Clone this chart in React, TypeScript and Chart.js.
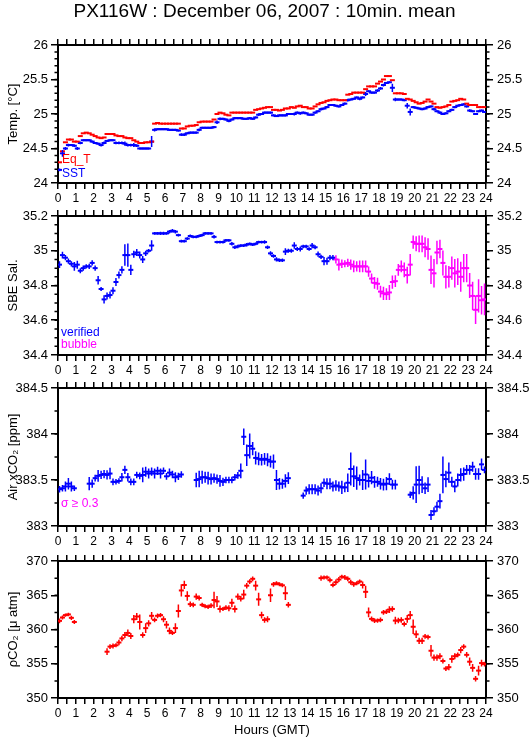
import React, { useEffect, useRef } from 'react';
import { Chart, registerables } from 'chart.js';

Chart.register(...registerables);
Chart.defaults.font.family = '"Liberation Sans", Arial, Helvetica, sans-serif';
Chart.defaults.color = '#000';

// ---------------- data ----------------
const TITLE = 'PX116W : December 06, 2007 : 10min. mean';
const HOURS = [0, 1, 2, 3, 4, 5, 6, 7, 8, 9, 10, 11, 12, 13, 14, 15, 16, 17, 18, 19, 20, 21, 22, 23, 24];
const TEMP_TICKS = [24, 24.5, 25, 25.5, 26];
const SAL_TICKS = [34.4, 34.6, 34.8, 35, 35.2];
const AIR_TICKS = [383, 383.5, 384, 384.5];
const PCO2_TICKS = [350, 355, 360, 365, 370];

// 10-minute means, centred at hh:05, hh:15, ... hh:55
const TIMES = Array.from({ length: 144 }, (_, i) => (i * 10 + 5) / 60);

const EQT = [
  24.30, 24.46, 24.59, 24.63, 24.63, 24.60,
  24.60, 24.68, 24.72, 24.73, 24.72, 24.70,
  24.68, 24.66, 24.65, 24.66, 24.71, 24.71,
  24.71, 24.69, 24.68, 24.68, 24.66, 24.65,
  24.65, 24.62, 24.60, 24.58, 24.58, 24.59,
  24.59, 24.60, 24.86, 24.87, 24.86, 24.86,
  24.86, 24.86, 24.86, 24.86, 24.86, 24.79,
  24.79, 24.82, 24.83, 24.83, 24.84, 24.88,
  24.89, 24.89, 24.89, 24.89, 24.92, 25.00,
  25.02, 25.01, 24.99, 24.98, 25.02, 25.02,
  25.02, 25.02, 25.02, 25.02, 25.02, 25.02,
  25.06, 25.07, 25.08, 25.09, 25.10, 25.10,
  25.06, 25.06, 25.05, 25.06, 25.08, 25.08,
  25.10, 25.09, 25.11, 25.12, 25.10, 25.10,
  25.08, 25.08, 25.11, 25.14, 25.16, 25.17,
  25.19, 25.20, 25.21, 25.21, 25.20, 25.20,
  25.20, 25.28, 25.29, 25.31, 25.31, 25.31,
  25.31, 25.36, 25.40, 25.40, 25.40, 25.44,
  25.47, 25.50, 25.55, 25.55, 25.49, 25.30,
  25.30, 25.30, 25.29, 25.22, 25.21, 25.19,
  25.17, 25.15, 25.16, 25.18, 25.21, 25.18,
  25.15, 25.10, 25.09, 25.10, 25.11, 25.13,
  25.18, 25.19, 25.20, 25.22, 25.21, 25.15,
  25.13, 25.13, 25.13, 25.10, 25.10, 25.10,
];

const SST = [
  24.19, 24.43, 24.50, 24.55, 24.55, 24.54,
  24.50, 24.58, 24.62, 24.62, 24.62, 24.60,
  24.58, 24.57, 24.55, 24.58, 24.61, 24.62,
  24.62, 24.58, 24.58, 24.58, 24.57, 24.55,
  24.55, 24.55, 24.54, 24.50, 24.50, 24.50,
  24.50, 24.60, 24.77, 24.78, 24.78, 24.78,
  24.78, 24.77, 24.77, 24.77, 24.76, 24.70,
  24.70, 24.72, 24.73, 24.73, 24.73, 24.77,
  24.80, 24.80, 24.80, 24.80, 24.81, 24.88,
  24.93, 24.93, 24.92, 24.90, 24.92, 24.94,
  24.94, 24.94, 24.93, 24.93, 24.94, 24.93,
  24.95, 24.99, 25.00, 25.02, 25.02, 25.02,
  24.98, 24.97, 24.98, 24.98, 24.98, 25.00,
  25.00, 25.00, 25.02, 25.01, 25.02, 25.01,
  24.99, 24.99, 25.02, 25.04, 25.07, 25.08,
  25.10, 25.13, 25.13, 25.12, 25.11, 25.13,
  25.15, 25.20, 25.21, 25.22, 25.24, 25.22,
  25.24, 25.29, 25.33, 25.31, 25.31, 25.34,
  25.37, 25.42, 25.45, 25.46, 25.38, 25.21,
  25.21, 25.21, 25.20, 25.12, 25.03, 25.10,
  25.09, 25.08, 25.07, 25.08, 25.10, 25.11,
  25.07, 25.04, 25.02, 25.00, 25.01, 25.04,
  25.06, 25.10, 25.12, 25.13, 25.14, 25.11,
  25.05, 25.04, 25.00, 25.04, 25.05, 25.03,
];

const SST_ERR = [
  0.02, 0.05, 0.02, 0.02, 0.015, 0.02,
  0.02, 0.02, 0.015, 0.015, 0.015, 0.015,
  0.015, 0.015, 0.02, 0.02, 0.015, 0.015,
  0.015, 0.02, 0.02, 0.02, 0.03, 0.02,
  0.02, 0.03, 0.02, 0.015, 0.015, 0.015,
  0.015, 0.08, 0.025, 0.015, 0.015, 0.015,
  0.015, 0.015, 0.015, 0.015, 0.015, 0.02,
  0.02, 0.015, 0.015, 0.015, 0.015, 0.02,
  0.015, 0.015, 0.015, 0.015, 0.015, 0.025,
  0.02, 0.015, 0.015, 0.02, 0.015, 0.015,
  0.015, 0.015, 0.015, 0.015, 0.015, 0.015,
  0.015, 0.02, 0.015, 0.015, 0.015, 0.015,
  0.015, 0.015, 0.015, 0.015, 0.015, 0.015,
  0.015, 0.02, 0.015, 0.02, 0.015, 0.015,
  0.015, 0.015, 0.015, 0.015, 0.02, 0.015,
  0.015, 0.015, 0.015, 0.015, 0.015, 0.015,
  0.015, 0.02, 0.015, 0.015, 0.015, 0.02,
  0.015, 0.03, 0.015, 0.015, 0.015, 0.02,
  0.02, 0.02, 0.015, 0.015, 0.06, 0.025,
  0.015, 0.015, 0.015, 0.04, 0.05, 0.015,
  0.015, 0.015, 0.015, 0.015, 0.015, 0.015,
  0.02, 0.015, 0.02, 0.015, 0.015, 0.015,
  0.015, 0.015, 0.015, 0.015, 0.015, 0.015,
  0.02, 0.015, 0.015, 0.015, 0.015, 0.015,
];

const SAL = [
  34.92, 34.975, 34.96, 34.94, 34.925, 34.91,
  34.92, 34.885, 34.90, 34.91, 34.91, 34.93,
  34.90, 34.83, 34.78, 34.72, 34.74, 34.745,
  34.77, 34.82, 34.86, 34.89, 34.975, 34.975,
  34.89, 34.98, 34.99, 34.975, 34.95, 34.985,
  35.00, 35.03, 35.10, 35.10, 35.10, 35.10,
  35.10, 35.11, 35.115, 35.11, 35.09, 35.055,
  35.055, 35.07, 35.085, 35.08, 35.08, 35.085,
  35.09, 35.10, 35.10, 35.10, 35.08, 35.05,
  35.05, 35.05, 35.06, 35.06, 35.04, 35.02,
  35.025, 35.03, 35.03, 35.035, 35.04, 35.035,
  35.04, 35.05, 35.05, 35.05, 35.02, 34.985,
  34.97, 34.95, 34.945, 34.945, 34.995, 35.00,
  35.00, 35.03, 35.01, 35.01, 35.025, 35.025,
  35.01, 35.03, 35.02, 34.98, 34.965, 34.94,
  34.94, 34.96, 34.96, 34.95, 34.92, 34.925,
  34.925, 34.93, 34.92, 34.91, 34.91, 34.91,
  34.91, 34.91, 34.88, 34.84, 34.815, 34.81,
  34.765, 34.755, 34.75, 34.76, 34.82, 34.825,
  34.89, 34.91, 34.89, 34.86, 34.92, 35.05,
  35.04, 35.04, 35.04, 35.02, 35.01, 34.89,
  34.87, 34.99, 35.01, 34.93, 34.85, 34.85,
  34.90, 34.87, 34.88, 34.85, 34.90, 34.90,
  34.80, 34.74, 34.66, 34.74, 34.715, 34.72,
];

const SAL_ERR = [
  0.019, 0.019, 0.015, 0.015, 0.015, 0.025,
  0.023, 0.015, 0.015, 0.012, 0.015, 0.015,
  0.015, 0.024, 0.012, 0.024, 0.02, 0.02,
  0.02, 0.023, 0.02, 0.021, 0.062, 0.067,
  0.03, 0.02, 0.02, 0.02, 0.02, 0.015,
  0.01, 0.03, 0.008, 0.008, 0.01, 0.01,
  0.008, 0.01, 0.01, 0.01, 0.008, 0.008,
  0.008, 0.008, 0.008, 0.008, 0.008, 0.008,
  0.008, 0.008, 0.008, 0.008, 0.01, 0.008,
  0.008, 0.008, 0.008, 0.008, 0.01, 0.01,
  0.01, 0.008, 0.008, 0.01, 0.008, 0.008,
  0.008, 0.008, 0.008, 0.01, 0.01, 0.012,
  0.01, 0.012, 0.01, 0.01, 0.019, 0.012,
  0.012, 0.019, 0.012, 0.015, 0.01, 0.01,
  0.01, 0.015, 0.012, 0.015, 0.012, 0.024,
  0.02, 0.015, 0.015, 0.024, 0.034, 0.024,
  0.02, 0.024, 0.029, 0.034, 0.029, 0.034,
  0.034, 0.034, 0.029, 0.029, 0.034, 0.034,
  0.034, 0.038, 0.034, 0.043, 0.038, 0.034,
  0.034, 0.034, 0.043, 0.048, 0.062, 0.038,
  0.043, 0.048, 0.048, 0.058, 0.062, 0.082,
  0.082, 0.067, 0.053, 0.072, 0.067, 0.062,
  0.067, 0.082, 0.077, 0.086, 0.082, 0.082,
  0.072, 0.082, 0.082, 0.096, 0.082, 0.091,
];
// first index flagged as "bubble"
const SAL_BUBBLE_FROM = 93;

const AIR: (number | null)[] = [
  383.40, 383.41, 383.43, 383.46, 383.43, 383.41,
  null, null, null, null, 383.46, 383.46,
  383.52, 383.545, 383.555, 383.565, 383.555, 383.57,
  383.48, 383.48, 383.49, 383.53, 383.61, 383.53,
  383.48, 383.48, 383.555, 383.545, 383.555, 383.59,
  383.57, 383.59, 383.57, 383.60, 383.57, 383.60,
  383.54, 383.58, 383.56, 383.53, 383.54, 383.56,
  null, null, null, null, 383.50, 383.51,
  383.53, 383.53, 383.52, 383.51, 383.52, 383.51,
  383.49, 383.48, 383.50, 383.50, 383.50, 383.53,
  383.55, 383.60, 383.97, 383.77, 383.87, 383.84,
  383.74, 383.73, 383.72, 383.73, 383.72, 383.70,
  383.70, 383.50, 383.46, 383.46, 383.49, 383.52,
  null, null, null, null, 383.33, 383.385,
  383.40, 383.40, 383.40, 383.385, 383.41, 383.47,
  383.46, 383.46, 383.43, 383.44, 383.43, 383.42,
  383.42, 383.47, 383.62, 383.54, 383.52, 383.50,
  383.50, 383.56, 383.49, 383.525, 383.48, 383.48,
  383.46, 383.45, 383.46, 383.51, 383.45, 383.45,
  null, null, null, null, 383.34, 383.36,
  383.45, 383.50, 383.45, 383.41, 383.45, 383.12,
  383.16, 383.21, 383.27, 383.555, 383.51, 383.58,
  383.48, 383.43, 383.50, 383.555, 383.565, 383.61,
  383.61, 383.645, 383.565, 383.565, 383.67, 383.61,
];

const AIR_ERR = [
  0.036, 0.036, 0.054, 0.063, 0.054, 0.03,
  0, 0, 0, 0, 0.072, 0.045,
  0.036, 0.063, 0.045, 0.045, 0.05, 0.063,
  0.036, 0.03, 0.03, 0.045, 0.045, 0.045,
  0.036, 0.036, 0.036, 0.036, 0.08, 0.054,
  0.054, 0.045, 0.054, 0.045, 0.054, 0.036,
  0.036, 0.045, 0.04, 0.054, 0.04, 0.036,
  0, 0, 0, 0, 0.08, 0.09,
  0.07, 0.06, 0.07, 0.06, 0.05, 0.05,
  0.063, 0.045, 0.036, 0.036, 0.036, 0.036,
  0.036, 0.08, 0.09, 0.117, 0.135, 0.072,
  0.072, 0.07, 0.063, 0.063, 0.07, 0.063,
  0.078, 0.108, 0.063, 0.054, 0.072, 0.063,
  0, 0, 0, 0, 0.033, 0.045,
  0.054, 0.054, 0.054, 0.054, 0.054, 0.045,
  0.06, 0.06, 0.054, 0.058, 0.054, 0.072,
  0.054, 0.1, 0.18, 0.117, 0.127, 0.06,
  0.11, 0.163, 0.072, 0.072, 0.063, 0.054,
  0.063, 0.063, 0.072, 0.063, 0.054, 0.054,
  0, 0, 0, 0, 0.036, 0.072,
  0.2, 0.154, 0.09, 0.063, 0.08, 0.054,
  0.045, 0.054, 0.08, 0.2, 0.09, 0.11,
  0.054, 0.063, 0.072, 0.072, 0.072, 0.054,
  0.054, 0.054, 0.063, 0.063, 0.063, 0.036,
];

const PCO2: (number | null)[] = [
  361.26, 361.75, 362.1, 362.2, 361.7, 361.1,
  null, null, null, null, null, null,
  null, null, null, null, 356.76, 357.5,
  357.6, 357.7, 358.1, 358.7, 359.2, 359.5,
  359.05, 361.5, 361.9, 361.1, 359.2, 360.2,
  360.9, 362.0, 361.4, 362.0, 362.1, 361.5,
  360.7, 359.8, 359.5, 360.2, 362.7, 365.7,
  366.5, 364.9, 363.7, 363.6, 364.8, 364.6,
  363.6, 363.4, 363.3, 363.5, 364.3, 364.1,
  363.0, 363.0, 363.2, 363.1, 363.9, 363.0,
  364.8, 364.5, 365.1, 366.4, 367.0, 367.4,
  366.4, 364.4, 362.1, 361.4, 361.5, 365.0,
  366.6, 366.75, 366.6, 366.45, 365.3, 363.6,
  null, null, null, null, null, null,
  null, null, null, null, 367.5, 367.6,
  367.6, 367.2, 366.5, 366.9, 367.3, 367.7,
  367.6, 367.4, 366.9, 366.6, 366.75, 367.0,
  366.5, 365.5, 362.5, 361.55, 361.3, 361.3,
  361.4, 362.5, 362.6, 362.9, 363.0, 361.3,
  361.3, 361.4, 360.8, 361.55, 362.1, 360.4,
  359.3, 358.35, 358.35, 359.0, 358.9, 356.9,
  355.9, 355.9, 356.1, 355.4, 354.3, 354.5,
  355.7, 356.1, 356.3, 357.0, 357.5, 356.3,
  355.3, 354.4, 352.8, 354.0, 355.1, 354.95,
];

const PCO2_ERR = [
  0.36, 0.3, 0.25, 0.25, 0.3, 0.3,
  0, 0, 0, 0, 0, 0,
  0, 0, 0, 0, 0.5, 0.36,
  0.36, 0.3, 0.4, 0.4, 0.45, 0.5,
  0.45, 0.6, 0.5, 1.1, 0.4, 0.7,
  0.45, 0.55, 0.35, 0.35, 0.3, 0.45,
  0.55, 0.5, 0.3, 0.7, 0.95, 0.9,
  0.6, 0.7, 0.4, 0.35, 0.45, 0.35,
  0.3, 0.3, 0.3, 0.35, 1.2, 0.8,
  0.5, 0.3, 0.35, 0.45, 0.6, 0.5,
  0.45, 0.4, 0.7, 0.4, 0.35, 0.35,
  0.7, 0.95, 0.5, 0.4, 0.45, 1.0,
  0.35, 0.3, 0.3, 0.3, 1.0, 0.4,
  0, 0, 0, 0, 0, 0,
  0, 0, 0, 0, 0.4, 0.3,
  0.3, 0.35, 0.35, 0.4, 0.35, 0.3,
  0.35, 0.35, 0.35, 0.35, 0.3, 0.3,
  0.5, 0.9, 0.7, 0.35, 0.35, 0.3,
  0.35, 0.35, 0.35, 0.5, 0.4, 0.55,
  0.4, 0.4, 0.35, 0.55, 0.6, 1.05,
  0.55, 0.45, 0.45, 0.35, 0.35, 0.85,
  0.45, 0.45, 0.45, 0.35, 0.35, 0.45,
  0.55, 0.45, 0.35, 0.45, 0.35, 0.4,
  0.6, 0.55, 0.4, 0.7, 0.5, 0.35,
];

// ---------------- helpers ----------------
const W = 529;
const PLOT_LEFT = 58;
const PLOT_RIGHT = 486;
const RED = '#ff0000';
const BLUE = '#0000ff';
const MAGENTA = '#ff00ff';

const X_TICKS = HOURS.flatMap((h) => (h < 24 ? [h, h + 0.5] : [h]));

function minorValues(min: number, max: number, step: number) {
  const out: number[] = [];
  const n = Math.round((max - min) / step);
  for (let k = 1; k < n; k++) out.push(min + k * step);
  return out;
}

function points(vals: (number | null)[], errs: number[] | null, from = 0, to = 144) {
  const out: { x: number; y: number; e: number }[] = [];
  for (let i = from; i < to; i++) {
    const v = vals[i];
    if (v === null || v === undefined) continue;
    out.push({ x: TIMES[i], y: v, e: errs ? errs[i] : 0 });
  }
  return out;
}

function dataset(data: any[], color: string) {
  return {
    data,
    showLine: false,
    pointStyle: 'line',
    pointRadius: 2.5,
    pointHoverRadius: 2.5,
    pointBorderWidth: 2,
    pointBorderColor: color,
    pointBackgroundColor: color,
    borderColor: color,
    backgroundColor: color,
  };
}

const errorBarPlugin = {
  id: 'errorBars',
  afterDatasetsDraw(chart: any) {
    const ctx = chart.ctx;
    chart.data.datasets.forEach((ds: any, di: number) => {
      const meta = chart.getDatasetMeta(di);
      const ys = chart.scales[meta.yAxisID];
      ctx.save();
      ctx.strokeStyle = ds.borderColor;
      ctx.lineWidth = 1.5;
      ctx.beginPath();
      ds.data.forEach((p: any, i: number) => {
        if (!p.e) return;
        const el = meta.data[i];
        if (!el) return;
        ctx.moveTo(el.x, ys.getPixelForValue(p.y - p.e));
        ctx.lineTo(el.x, ys.getPixelForValue(p.y + p.e));
      });
      ctx.stroke();
      ctx.restore();
    });
  },
};

const minorTickPlugin = {
  id: 'minorTicks',
  afterDraw(chart: any, _args: any, opts: any) {
    const vals: number[] = (opts && opts.values) || [];
    const { left, right } = chart.chartArea;
    const ys = chart.scales.y;
    const ctx = chart.ctx;
    ctx.save();
    ctx.strokeStyle = '#000';
    ctx.lineWidth = 1.5;
    ctx.beginPath();
    vals.forEach((v) => {
      const py = ys.getPixelForValue(v);
      ctx.moveTo(left - 3.5, py);
      ctx.lineTo(left, py);
      ctx.moveTo(right, py);
      ctx.lineTo(right + 3.5, py);
    });
    ctx.stroke();
    ctx.restore();
  },
};

const panelTextPlugin = {
  id: 'panelText',
  afterDraw(chart: any, _args: any, opts: any) {
    const items: any[] = (opts && opts.items) || [];
    const { left, bottom } = chart.chartArea;
    const ctx = chart.ctx;
    ctx.save();
    ctx.font = '12px "Liberation Sans", Arial, Helvetica, sans-serif';
    ctx.textAlign = 'left';
    ctx.textBaseline = 'alphabetic';
    items.forEach((it) => {
      ctx.fillStyle = it.color;
      ctx.fillText(it.text, left + it.dx, bottom - it.dy);
    });
    ctx.restore();
  },
};

type Panel = {
  canvasTop: number;
  canvasBottom: number;
  plotTop: number;
  plotBottom: number;
  yTitle: string;
  yMin: number;
  yMax: number;
  yTicks: number[];
  minorStep: number;
  datasets: any[];
  texts: { text: string; color: string; dx: number; dy: number }[];
  title?: string;
  xTitle?: string;
};

const TITLE_SIZE = 19;

function buildConfig(p: Panel): any {
  const topPad = p.plotTop - p.canvasTop;
  const bottomPad = p.canvasBottom - p.plotBottom;
  const titleH = p.title ? TITLE_SIZE * 1.2 : 0;
  const yLabel = (v: any) => String(Math.round(Number(v) * 1000) / 1000);
  const setY = (s: any) => {
    s.ticks = p.yTicks.map((v) => ({ value: v }));
  };
  const setX = (s: any) => {
    s.ticks = X_TICKS.map((v) => ({ value: v }));
  };
  const xGrid = { drawOnChartArea: false, drawTicks: true, tickLength: 6, color: '#000', lineWidth: 1.5 };
  const yGrid = { drawOnChartArea: false, drawTicks: true, tickLength: 7, color: '#000', lineWidth: 1.5 };
  const border = { display: true, color: '#000', width: 2 };
  return {
    type: 'scatter',
    data: { datasets: p.datasets },
    options: {
      animation: false,
      responsive: false,
      events: [],
      layout: { padding: 0 },
      plugins: {
        legend: { display: false },
        tooltip: { enabled: false },
        title: p.title
          ? {
              display: true,
              text: p.title,
              color: '#000',
              font: { size: TITLE_SIZE, weight: 'normal' },
              padding: { top: 0, bottom: 0 },
            }
          : { display: false },
        minorTicks: { values: minorValues(p.yMin, p.yMax, p.minorStep) },
        panelText: { items: p.texts },
      },
      scales: {
        x: {
          type: 'linear',
          position: 'bottom',
          min: 0,
          max: 24,
          afterBuildTicks: setX,
          ticks: {
            autoSkip: false,
            maxRotation: 0,
            padding: 2,
            color: '#000',
            font: { size: 12 },
            callback: (v: any) => (Number.isInteger(Number(v)) ? String(v) : ''),
          },
          grid: xGrid,
          border,
          title: p.xTitle
            ? { display: true, text: p.xTitle, color: '#000', font: { size: 13 }, padding: { top: 0, bottom: 1.2 } }
            : { display: false },
          afterFit: (s: any) => {
            s.height = bottomPad;
          },
        },
        xTop: {
          type: 'linear',
          position: 'top',
          min: 0,
          max: 24,
          afterBuildTicks: setX,
          ticks: { display: false },
          grid: xGrid,
          border,
          afterFit: (s: any) => {
            s.height = topPad - titleH;
          },
        },
        y: {
          type: 'linear',
          position: 'left',
          min: p.yMin,
          max: p.yMax,
          afterBuildTicks: setY,
          ticks: { padding: 3, color: '#000', font: { size: 13 }, callback: yLabel },
          grid: yGrid,
          border,
          title: { display: true, text: p.yTitle, color: '#000', font: { size: 13 }, padding: { top: 6, bottom: 0 } },
          afterFit: (s: any) => {
            s.width = PLOT_LEFT;
          },
        },
        yRight: {
          type: 'linear',
          position: 'right',
          min: p.yMin,
          max: p.yMax,
          afterBuildTicks: setY,
          ticks: { padding: 4, color: '#000', font: { size: 13 }, callback: yLabel },
          grid: yGrid,
          border,
          afterFit: (s: any) => {
            s.width = W - PLOT_RIGHT;
          },
        },
      },
    },
    plugins: [errorBarPlugin, minorTickPlugin, panelTextPlugin],
  };
}

const PANELS: Panel[] = [
  {
    canvasTop: 0,
    canvasBottom: 207,
    plotTop: 45,
    plotBottom: 183,
    title: TITLE,
    yTitle: 'Temp. [°C]',
    yMin: 24,
    yMax: 26,
    yTicks: TEMP_TICKS,
    minorStep: 0.1,
    datasets: [dataset(points(EQT, null), RED), dataset(points(SST, SST_ERR), BLUE)],
    texts: [
      { text: 'Eq_T', color: RED, dx: 4, dy: 20 },
      { text: 'SST', color: BLUE, dx: 4, dy: 6 },
    ],
  },
  {
    canvasTop: 190,
    canvasBottom: 379,
    plotTop: 216,
    plotBottom: 355,
    yTitle: 'SBE Sal.',
    yMin: 34.4,
    yMax: 35.2,
    yTicks: SAL_TICKS,
    minorStep: 0.05,
    datasets: [
      dataset(points(SAL, SAL_ERR, 0, SAL_BUBBLE_FROM), BLUE),
      dataset(points(SAL, SAL_ERR, SAL_BUBBLE_FROM, 144), MAGENTA),
    ],
    texts: [
      { text: 'verified', color: BLUE, dx: 3, dy: 19 },
      { text: 'bubble', color: MAGENTA, dx: 3, dy: 7 },
    ],
  },
  {
    canvasTop: 362,
    canvasBottom: 550,
    plotTop: 388,
    plotBottom: 526,
    yTitle: 'Air xCO₂ [ppm]',
    yMin: 383,
    yMax: 384.5,
    yTicks: AIR_TICKS,
    minorStep: 0.25,
    datasets: [dataset(points(AIR, AIR_ERR), BLUE)],
    texts: [{ text: 'σ ≥ 0.3', color: MAGENTA, dx: 3, dy: 19 }],
  },
  {
    canvasTop: 535,
    canvasBottom: 739,
    plotTop: 561,
    plotBottom: 698,
    yTitle: 'ρCO₂ [μ atm]',
    yMin: 350,
    yMax: 370,
    yTicks: PCO2_TICKS,
    minorStep: 2.5,
    xTitle: 'Hours (GMT)',
    datasets: [dataset(points(PCO2, PCO2_ERR), RED)],
    texts: [],
  },
];

function PanelChart({ panel }: { panel: Panel }) {
  const ref = useRef<HTMLCanvasElement | null>(null);
  useEffect(() => {
    if (!ref.current) return;
    const chart = new Chart(ref.current, buildConfig(panel));
    return () => chart.destroy();
  }, [panel]);
  const h = panel.canvasBottom - panel.canvasTop;
  return (
    <canvas
      ref={ref}
      width={W}
      height={h}
      style={{ position: 'absolute', left: 0, top: panel.canvasTop, width: W, height: h, display: 'block' }}
    />
  );
}

export default function App() {
  return (
    <div
      style={{
        position: 'absolute',
        left: 0,
        top: 0,
        width: W,
        height: 739,
        background: '#ffffff',
        overflow: 'hidden',
      }}
    >
      {PANELS.map((p, i) => (
        <PanelChart key={i} panel={p} />
      ))}
    </div>
  );
}
